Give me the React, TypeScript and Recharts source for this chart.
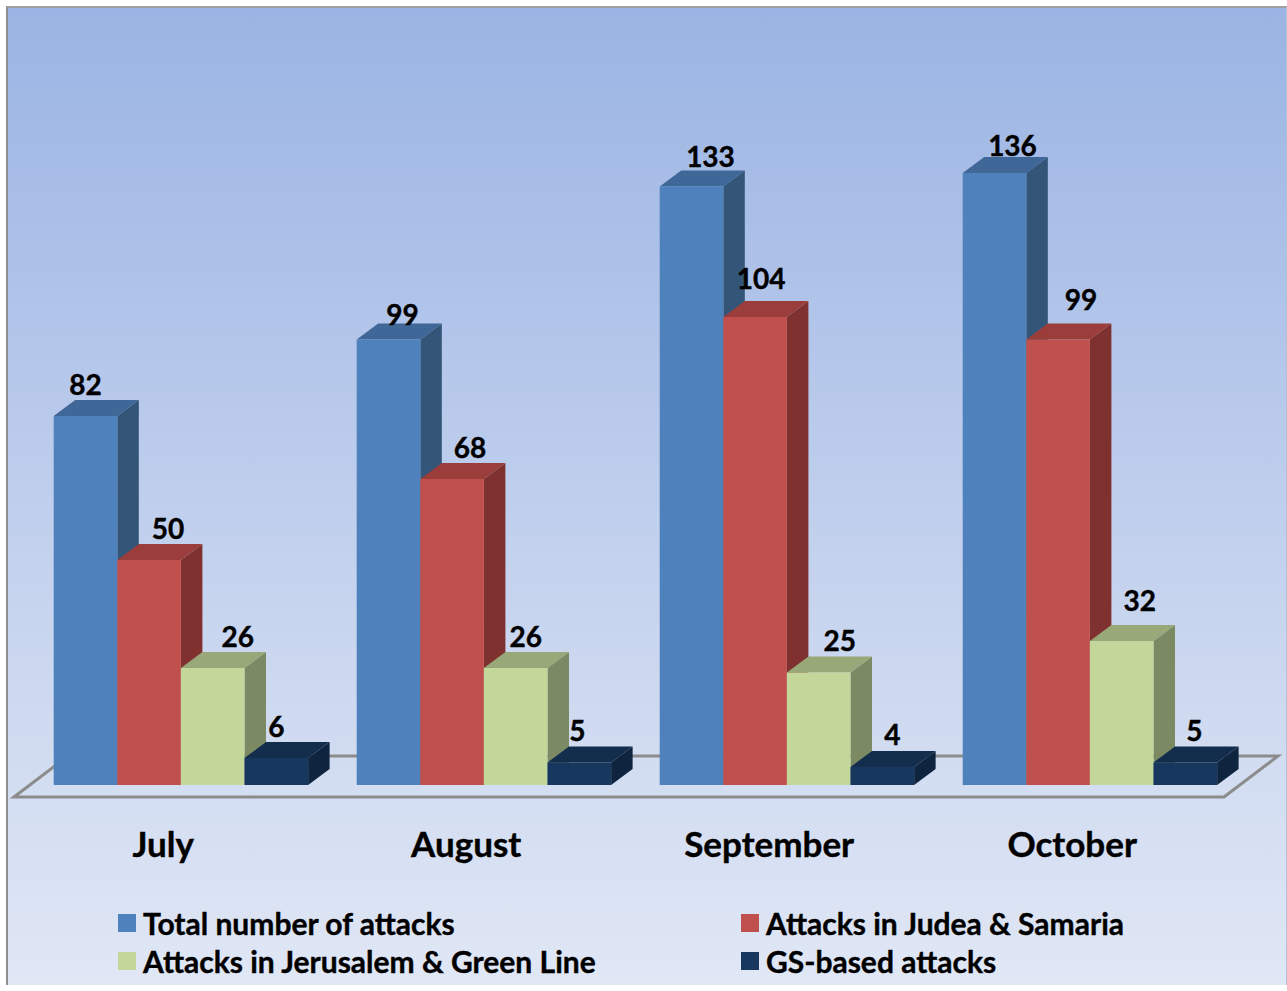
import React from "react"
import { Bar, BarChart, LabelList, Legend, XAxis, YAxis } from "recharts"

const months = ["July", "August", "September", "October"]
const total = [82, 99, 133, 136]
const judea = [50, 68, 104, 99]
const jerusalem = [26, 26, 25, 32]
const gaza = [6, 5, 4, 5]

const data = months.map((name, i) => ({
  name,
  total: total[i],
  judea: judea[i],
  jerusalem: jerusalem[i],
  gaza: gaza[i],
}))

const FONT = "Lato, sans-serif"
const DEPTH_X = 21.5
const DEPTH_Y = 16

const MARGIN = { top: 65, right: 45.3, bottom: 11, left: 29.7 }

// value labels sit in slightly different spots on every bar, [dx, dy] from the top of the bar
const totalNudge = [[-1, -14], [13, -8], [18, -13], [17, -10]]
const judeaNudge = [[18, -14], [17, -14], [5, -21], [22, -23]]
const jerusalemNudge = [[24, -14], [9, -14], [20, -15], [17, -23]]
const gazaNudge = [[-1, -14], [-3, -15], [9, -15], [8, -15]]

function box(front: string, top: string, side: string) {
  return (props: any) => {
    const { x, y, width, height } = props
    const r = x + width
    const b = y + height
    return (
      <g>
        <polygon
          points={`${r},${y} ${r + DEPTH_X},${y - DEPTH_Y} ${r + DEPTH_X},${b - DEPTH_Y} ${r},${b}`}
          fill={side}
        />
        <polygon
          points={`${x},${y} ${x + DEPTH_X},${y - DEPTH_Y} ${r + DEPTH_X},${y - DEPTH_Y} ${r},${y}`}
          fill={top}
        />
        <rect x={x} y={y} width={width} height={height} fill={front} />
      </g>
    )
  }
}

function valueLabel(nudge: number[][]) {
  return (props: any) => {
    const { x, y, width, value, index } = props
    const [dx, dy] = nudge[index]
    return (
      <text
        x={x + width / 2 + dx + 1}
        y={y - DEPTH_Y + dy - 2}
        textAnchor="middle"
        dominantBaseline="central"
        fontFamily={FONT}
        fontWeight={700}
        fontSize={28}
        fill="#000"
        stroke="#000"
        strokeWidth={0.4}
      >
        {value}
      </text>
    )
  }
}

function MonthTick(props: any) {
  const { x, y, payload } = props
  return (
    <text
      x={x - 18}
      y={y + 50}
      textAnchor="middle"
      dominantBaseline="central"
      fontFamily={FONT}
      fontWeight={700}
      fontSize={35}
      fill="#000"
      stroke="#000"
      strokeWidth={0.4}
    >
      {payload.value}
    </text>
  )
}

function LegendBox(props: any) {
  return (
    <div
      style={{
        display: "grid",
        gridTemplateColumns: "623px 400px",
        fontFamily: FONT,
        fontWeight: 700,
        fontSize: 30,
        lineHeight: "38px",
        color: "#000",
        WebkitTextStroke: "0.4px #000",
      }}
    >
      {props.payload.map((item: any) => (
        <div key={item.value} style={{ display: "flex", alignItems: "center", whiteSpace: "nowrap" }}>
          <span style={{ width: 18, height: 18, background: item.color, marginRight: 7, flex: "none" }} />
          {item.value}
        </div>
      ))}
    </div>
  )
}

export default function App() {
  return (
    <div
      style={{
        position: "absolute",
        left: 0,
        top: 0,
        width: 1287,
        height: 991,
        background: "#fff",
      }}
    >
      <div
        style={{
          position: "absolute",
          left: 6,
          top: 6,
          width: 1278,
          height: 977,
          borderLeft: "2px solid #8f8f8f",
          borderTop: "2px solid #a0a0a0",
          borderRight: "1px solid #b4bfd6",
          background: "linear-gradient(180deg, #9ab4e3 0%, #b4c6ea 35%, #cdd9f0 70%, #e0e7f5 100%)",
        }}
      />
      <BarChart
        width={1287}
        height={991}
        data={data}
        margin={MARGIN}
        barSize={63.6}
        barGap={0}
        style={{ position: "absolute", left: 0, top: 0 }}
      >
        <polygon
          points="14,797 68,756 1278,756 1224,797"
          fill="none"
          stroke="#8c8c8c"
          strokeWidth={3}
        />
        <XAxis dataKey="name" height={119} axisLine={false} tickLine={false} tick={MonthTick} interval={0} />
        <YAxis hide domain={[0, 160]} />
        <Legend
          verticalAlign="bottom"
          content={LegendBox}
          itemSorter={null}
          wrapperStyle={{ left: 118, width: 1100 }}
        />
        <Bar dataKey="total" name="Total number of attacks" fill="#4f81bd" shape={box("#4f81bd", "#3f6797", "#325578")} isAnimationActive={false}>
          <LabelList dataKey="total" content={valueLabel(totalNudge)} />
        </Bar>
        <Bar dataKey="judea" name="Attacks in Judea & Samaria" fill="#c0504d" shape={box("#c0504d", "#9a3d3b", "#7f3130")} isAnimationActive={false}>
          <LabelList dataKey="judea" content={valueLabel(judeaNudge)} />
        </Bar>
        <Bar dataKey="jerusalem" name="Attacks in Jerusalem & Green Line" fill="#c4d79b" shape={box("#c4d79b", "#98a878", "#7c8a64")} isAnimationActive={false}>
          <LabelList dataKey="jerusalem" content={valueLabel(jerusalemNudge)} />
        </Bar>
        <Bar dataKey="gaza" name="GS-based attacks" fill="#17375e" shape={box("#17375e", "#132d4d", "#0f253f")} isAnimationActive={false}>
          <LabelList dataKey="gaza" content={valueLabel(gazaNudge)} />
        </Bar>
      </BarChart>
    </div>
  )
}
